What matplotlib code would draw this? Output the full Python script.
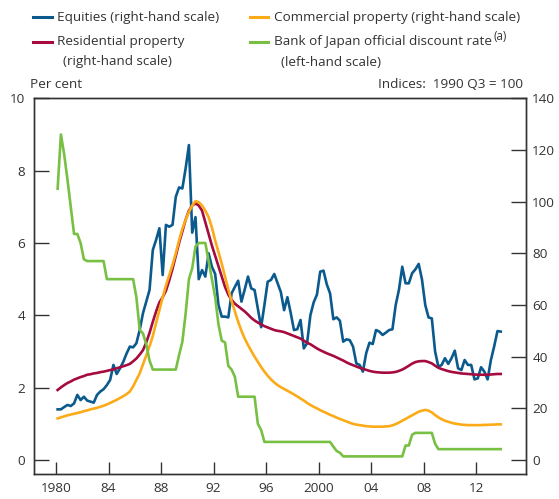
import matplotlib
matplotlib.use('Agg')
import matplotlib.pyplot as plt
from matplotlib.lines import Line2D
import numpy as np

plt.rcParams['font.family'] = ['Open Sans', 'DejaVu Sans']

# ---------------- data (quarterly, 1980 Q1 - 2013 Q4) ----------------
start_year = 1980

equities = [
    19.6, 19.6, 20.5, 21.3,   20.9, 21.9, 25.2, 23.2,   24.5, 23.0, 22.6, 22.2,
    25.2, 26.5, 27.4, 29.0,   31.0, 36.8, 33.3, 35.5,   38.0, 41.2, 43.9, 43.6,
    45.2, 50.3, 56.8, 61.3,   65.8, 81.3, 85.2, 89.7,   71.6, 91.0, 90.3, 91.0,
    101.9, 105.5, 105.1, 112.9, 121.9, 88.0, 94.0, 70.0, 73.5, 71.0, 80.0, 74.8,
    72.0, 60.0, 55.5, 55.5,   55.2, 64.5, 67.0, 69.4,   61.3, 66.0, 71.0, 66.4,
    65.8, 58.5, 51.4, 60.0,   69.0, 69.7, 72.0, 68.5,   65.0, 58.0, 63.0, 57.0,
    50.3, 50.6, 54.2, 43.2,   45.2, 56.0, 61.0, 64.0,   72.9, 73.3, 68.0, 64.5,
    54.5, 55.2, 53.9, 45.8,   46.7, 46.4, 43.9, 37.4,   36.8, 34.2, 41.3, 45.4,
    44.9, 50.3, 49.7, 48.4,   49.3, 50.3, 50.6, 60.0,   66.0, 74.8, 68.4, 68.4,
    72.3, 73.8, 75.9, 69.9,   60.0, 55.2, 54.8, 42.0,   36.1, 36.8, 39.4, 37.2,
    39.4, 42.3, 35.5, 34.8,   38.7, 36.8, 36.8, 31.2,   31.6, 35.9, 34.2, 31.2,
    38.7, 44.0, 49.9, 49.7,
]

residential = [
    27.1, 28.1, 29.0, 29.8,   30.4, 31.1, 31.6, 32.1,   32.5, 33.0, 33.2, 33.5,
    33.7, 34.0, 34.2, 34.5,   34.8, 35.1, 35.5, 35.9,   36.3, 36.7, 37.2, 38.2,
    39.3, 40.8, 42.5, 45.5,   49.2, 53.5, 57.5, 61.0,   63.0, 65.5, 69.5, 74.0,
    79.0, 84.0, 88.5, 93.0,   96.5, 98.5, 99.3, 98.5,   96.5, 92.0, 87.5, 83.0,
    79.0, 75.0, 71.0, 67.0,   64.0, 62.0, 60.5, 59.5,   58.5, 57.5, 56.3, 55.0,
    54.0, 53.2, 52.5, 51.8,   51.3, 50.8, 50.3, 50.0,   49.8, 49.5, 49.0, 48.5,
    48.0, 47.5, 47.0, 46.2,   45.4, 44.8, 44.0, 43.2,   42.5, 41.9, 41.3, 40.8,
    40.3, 39.7, 39.1, 38.5,   37.8, 37.2, 36.7, 36.2,   35.7, 35.3, 34.9, 34.5,
    34.2, 34.0, 33.9, 33.8,   33.8, 33.8, 33.9, 34.1,   34.5, 35.0, 35.7, 36.5,
    37.3, 37.9, 38.2, 38.3,   38.3, 37.9, 37.4, 36.5,   35.7, 35.2, 34.8, 34.4,
    34.1, 33.9, 33.7, 33.5,   33.4, 33.3, 33.2, 33.1,   33.0, 33.0, 33.0, 33.0,
    33.1, 33.2, 33.3, 33.3,
]

commercial = [
    16.1, 16.5, 16.9, 17.3,   17.6, 17.9, 18.2, 18.5,   18.9, 19.2, 19.6, 19.9,
    20.2, 20.6, 21.0, 21.5,   22.1, 22.7, 23.3, 24.0,   24.7, 25.5, 26.5, 28.5,
    31.0, 33.5, 37.0, 40.5,   44.0, 48.0, 53.0, 58.0,   63.0, 67.5, 71.5, 75.5,
    80.0, 85.0, 89.5, 93.0,   96.0, 98.5, 100.2, 99.8,  98.5, 96.5, 94.0, 90.0,
    85.0, 80.5, 76.0, 71.0,   66.0, 61.5, 57.5, 53.5,   50.0, 47.0, 44.5, 42.2,
    40.0, 38.0, 36.0, 34.2,   32.6, 31.2, 30.0, 29.0,   28.2, 27.5, 26.8, 26.1,
    25.4, 24.6, 23.8, 23.0,   22.1, 21.3, 20.6, 20.0,   19.3, 18.7, 18.1, 17.5,
    17.0, 16.4, 15.9, 15.4,   14.9, 14.4, 14.0, 13.7,   13.5, 13.3, 13.1, 13.0,
    12.9, 12.9, 12.9, 12.9,   13.0, 13.1, 13.4, 13.9,   14.5, 15.2, 15.9, 16.6,
    17.3, 18.0, 18.7, 19.1,   19.4, 19.1, 18.4, 17.4,   16.5, 15.8, 15.2, 14.8,
    14.4, 14.1, 13.9, 13.7,   13.6, 13.5, 13.5, 13.5,   13.5, 13.5, 13.6, 13.6,
    13.7, 13.7, 13.8, 13.8,
]

boj_rate = [
    7.5, 9.0, 8.45, 7.75,     7.0, 6.25, 6.25, 6.0,     5.55, 5.5, 5.5, 5.5,
    5.5, 5.5, 5.5, 5.0,       5.0, 5.0, 5.0, 5.0,       5.0, 5.0, 5.0, 5.0,
    4.5, 3.6, 3.5, 3.2,       2.75, 2.5, 2.5, 2.5,      2.5, 2.5, 2.5, 2.5,
    2.5, 2.9, 3.27, 4.05,     5.0, 5.3, 5.9, 6.0,       6.0, 6.0, 5.5, 5.0,
    4.5, 3.75, 3.3, 3.25,     2.6, 2.5, 2.3, 1.75,      1.75, 1.75, 1.75, 1.75,
    1.75, 1.0, 0.83, 0.5,     0.5, 0.5, 0.5, 0.5,       0.5, 0.5, 0.5, 0.5,
    0.5, 0.5, 0.5, 0.5,       0.5, 0.5, 0.5, 0.5,       0.5, 0.5, 0.5, 0.5,
    0.37, 0.25, 0.2, 0.1,     0.1, 0.1, 0.1, 0.1,       0.1, 0.1, 0.1, 0.1,
    0.1, 0.1, 0.1, 0.1,       0.1, 0.1, 0.1, 0.1,       0.1, 0.1, 0.4, 0.4,
    0.7, 0.75, 0.75, 0.75,    0.75, 0.75, 0.75, 0.45,   0.3, 0.3, 0.3, 0.3,
    0.3, 0.3, 0.3, 0.3,       0.3, 0.3, 0.3, 0.3,       0.3, 0.3, 0.3, 0.3,
    0.3, 0.3, 0.3, 0.3,
]

xtick_years = [1980, 1984, 1988, 1992, 1996, 2000, 2004, 2008, 2012]
xtick_labels = ['1980', '84', '88', '92', '96', '2000', '04', '08', '12']
left_ticks = [0, 2, 4, 6, 8, 10]
right_ticks = [0, 20, 40, 60, 80, 100, 120, 140]

labels = {
    'eq': 'Equities (right-hand scale)',
    'com': 'Commercial property (right-hand scale)',
    'res1': 'Residential property',
    'res2': '(right-hand scale)',
    'boj1': 'Bank of Japan official discount rate',
    'boj2': '(left-hand scale)',
}

# ---------------- style ----------------
BLUE = '#0b5a8e'
RED = '#a50b3e'
ORANGE = '#fbab18'
GREEN = '#78c043'
AXC = '#333333'
LW = 1.9
FS = 9.7

t = start_year + (np.arange(len(equities)) + 0.5) / 4.0

fig = plt.figure(figsize=(5.59, 4.99), dpi=100)
ax = fig.add_axes([0.0614, 0.0501, 0.8796, 0.7529])
ax2 = ax.twinx()

ax2.plot(t, equities, color=BLUE, lw=LW)
ax2.plot(t, residential, color=RED, lw=LW)
ax2.plot(t, commercial, color=ORANGE, lw=LW)
ax.plot(t, boj_rate, color=GREEN, lw=LW)

ax.set_zorder(ax2.get_zorder() + 1)
ax.patch.set_visible(False)

ax.set_xlim(1978.35, 2015.8)
ax.set_ylim(-0.387, 10)
ax2.set_ylim(-0.387 * 14, 140)

ax.set_xticks(xtick_years)
ax.set_xticklabels(xtick_labels)
ax.set_yticks(left_ticks)
ax.set_yticklabels([str(v) for v in left_ticks])
ax2.set_yticks(right_ticks)
ax2.set_yticklabels([str(v) for v in right_ticks])

for a in (ax, ax2):
    for s in a.spines.values():
        s.set_color(AXC)
        s.set_linewidth(1.0)

ax.tick_params(axis='x', direction='in', length=8.8, width=1.0, color=AXC,
               labelcolor=AXC, labelsize=FS, pad=6)
ax.tick_params(axis='y', direction='in', length=10.5, width=1.0, color=AXC,
               labelcolor=AXC, labelsize=FS, pad=6.5)
ax2.tick_params(axis='y', direction='in', length=10.5, width=1.0, color=AXC,
                labelcolor=AXC, labelsize=FS, pad=4.5)

# axis unit labels
fig.text(30 / 559, 1 - 84 / 499, 'Per cent', fontsize=FS, color=AXC,
         ha='left', va='center')
fig.text(523 / 559, 1 - 84 / 499, 'Indices:  1990 Q3 = 100', fontsize=FS,
         color=AXC, ha='right', va='center')

# legend (manual)
W, H = 559.0, 499.0
def handle(x0, x1, y, c):
    fig.add_artist(Line2D([x0 / W, x1 / W], [1 - y / H, 1 - y / H],
                          transform=fig.transFigure, color=c, lw=2.2))

def txt(x, y, s, size=FS):
    return fig.text(x / W, 1 - y / H, s, fontsize=size, color=AXC, ha='left',
                    va='center')

handle(33, 52, 17, BLUE)
txt(57, 17, labels['eq'])
handle(250, 268, 17, ORANGE)
txt(274, 17, labels['com'])
handle(33, 52, 42, RED)
txt(57, 42, labels['res1'])
txt(63, 62, labels['res2'])
handle(250, 268, 42, GREEN)
tb = txt(274, 42, labels['boj1'])
fig.canvas.draw()
bb = tb.get_window_extent()
fig.text((bb.x1 + 1) / fig.bbox.width, 1 - 36 / H, '(a)', fontsize=8.3,
         color=AXC, ha='left', va='center')
txt(281, 62, labels['boj2'])

fig.savefig('out.png', dpi=100)
